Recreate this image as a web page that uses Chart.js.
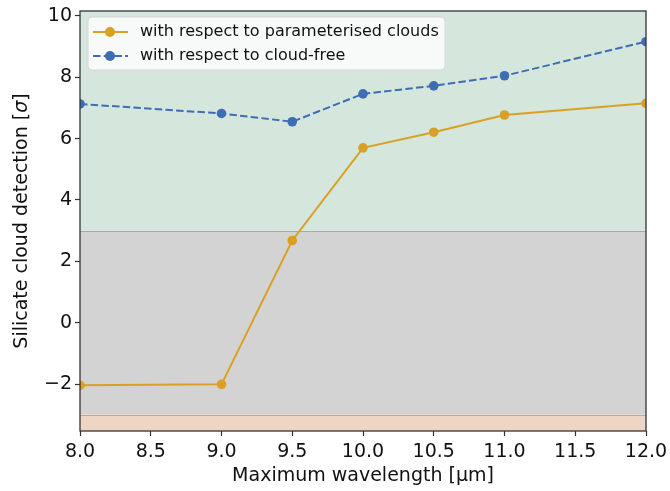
<!DOCTYPE html>
<html>
<head>
<meta charset="utf-8">
<script src="https://cdn.jsdelivr.net/npm/chart.js@4.4.1/dist/chart.umd.min.js"></script>
<style>
  html, body { margin: 0; padding: 0; background: #fff; }
  #wrap { width: 670px; height: 491px; }
</style>
</head>
<body>
<div id="wrap"><canvas id="chart" width="670" height="491"></canvas></div>
<script>
const wavelengths = [8.0, 9.0, 9.5, 10.0, 10.5, 11.0, 12.0];
const paramClouds = [-2.04, -2.01, 2.68, 5.70, 6.21, 6.77, 7.15];
const cloudFree = [7.13, 6.82, 6.55, 7.46, 7.72, 8.05, 9.16];
const seriesNames = ["with respect to parameterised clouds", "with respect to cloud-free"];
const xTicks = [8.0, 8.5, 9.0, 9.5, 10.0, 10.5, 11.0, 11.5, 12.0];
const yTicks = [-2, 0, 2, 4, 6, 8, 10];
const bandLimits = [-3, 3];

const FONT = "DejaVu Sans";
const ORANGE = "#daa024";
const BLUE = "#3e6db3";

function toPoints(ys) {
  return wavelengths.map((x, i) => ({ x: x, y: ys[i] }));
}

function fmtTick(v) {
  return v < 0 ? "\u2212" + Math.abs(v) : String(v);
}

const bandsPlugin = {
  id: "bands",
  beforeDatasetsDraw(chart) {
    const { ctx, chartArea: a, scales: { y } } = chart;
    const yLow = y.getPixelForValue(bandLimits[0]);
    const yHigh = y.getPixelForValue(bandLimits[1]);
    ctx.save();
    ctx.fillStyle = "#d5e6dc";
    ctx.fillRect(a.left, a.top, a.right - a.left, yHigh - a.top);
    ctx.fillStyle = "#d3d3d3";
    ctx.fillRect(a.left, yHigh, a.right - a.left, yLow - yHigh);
    ctx.fillStyle = "#efd6c4";
    ctx.fillRect(a.left, yLow, a.right - a.left, a.bottom - yLow);
    ctx.lineWidth = 1;
    ctx.strokeStyle = "#a2aba5";
    ctx.beginPath();
    ctx.moveTo(a.left, Math.round(yHigh) + 0.5);
    ctx.lineTo(a.right, Math.round(yHigh) + 0.5);
    ctx.stroke();
    ctx.strokeStyle = "#c3a995";
    ctx.beginPath();
    ctx.moveTo(a.left, Math.round(yLow) + 0.5);
    ctx.lineTo(a.right, Math.round(yLow) + 0.5);
    ctx.stroke();
    ctx.restore();
  },
  afterDraw(chart) {
    const { ctx, chartArea: a } = chart;
    ctx.save();
    // frame
    ctx.strokeStyle = "#333";
    ctx.lineWidth = 1.3;
    ctx.strokeRect(a.left, a.top, a.right - a.left, a.bottom - a.top);

    // legend
    const lx = a.left + 8, ly = a.top + 6, lw = 357, lh = 53;
    ctx.beginPath();
    ctx.roundRect(lx, ly, lw, lh, 4);
    ctx.fillStyle = "rgba(255,255,255,0.8)";
    ctx.fill();
    ctx.strokeStyle = "#d6d6d6";
    ctx.lineWidth = 1;
    ctx.stroke();
    const rows = [
      { name: seriesNames[0], color: ORANGE, dash: [] },
      { name: seriesNames[1], color: BLUE, dash: [7.5, 3.2] }
    ];
    rows.forEach((r, i) => {
      const cy = ly + 15 + i * 24;
      ctx.strokeStyle = r.color;
      ctx.lineWidth = 2;
      ctx.setLineDash(r.dash);
      ctx.beginPath();
      ctx.moveTo(lx + 5, cy);
      ctx.lineTo(lx + 40, cy);
      ctx.stroke();
      ctx.setLineDash([]);
      ctx.fillStyle = r.color;
      ctx.beginPath();
      ctx.arc(lx + 22, cy, 5, 0, Math.PI * 2);
      ctx.fill();
      ctx.fillStyle = "#111";
      ctx.font = "16px '" + FONT + "'";
      ctx.textBaseline = "middle";
      ctx.textAlign = "left";
      ctx.fillText(r.name, lx + 52, cy);
    });

    // y axis title with italic sigma
    ctx.translate(22, (a.top + a.bottom) / 2);
    ctx.rotate(-Math.PI / 2);
    const f1 = "19px '" + FONT + "'";
    const f2 = "italic 19px '" + FONT + "'";
    const p1 = "Silicate cloud detection [", p2 = "\u03c3", p3 = "]";
    ctx.font = f1;
    const w1 = ctx.measureText(p1).width, w3 = ctx.measureText(p3).width;
    ctx.font = f2;
    const w2 = ctx.measureText(p2).width;
    let x0 = -(w1 + w2 + w3) / 2;
    ctx.fillStyle = "#111";
    ctx.textBaseline = "middle";
    ctx.textAlign = "left";
    ctx.font = f1; ctx.fillText(p1, x0, 0);
    ctx.font = f2; ctx.fillText(p2, x0 + w1, 0);
    ctx.font = f1; ctx.fillText(p3, x0 + w1 + w2, 0);
    ctx.restore();
  }
};

new Chart(document.getElementById("chart"), {
  type: "line",
  data: {
    datasets: [
      {
        label: seriesNames[0],
        data: toPoints(paramClouds),
        borderColor: ORANGE,
        backgroundColor: ORANGE,
        borderWidth: 2,
        pointRadius: 4.8,
        pointHoverRadius: 4.8,
        pointBorderWidth: 0,
        tension: 0,
        clip: 0
      },
      {
        label: seriesNames[1],
        data: toPoints(cloudFree),
        borderColor: BLUE,
        backgroundColor: BLUE,
        borderWidth: 2,
        borderDash: [7.5, 3.2],
        pointRadius: 4.8,
        pointHoverRadius: 4.8,
        pointBorderWidth: 0,
        tension: 0,
        clip: 0
      }
    ]
  },
  options: {
    responsive: false,
    animation: false,
    devicePixelRatio: 1,
    layout: { padding: { left: 0, right: 24, top: 11, bottom: 0 } },
    plugins: { legend: { display: false }, tooltip: { enabled: false } },
    scales: {
      x: {
        type: "linear",
        min: 8,
        max: 12,
        afterBuildTicks: (s) => { s.ticks = xTicks.map(v => ({ value: v })); },
        afterFit: (s) => { s.height = 60; s.paddingLeft = 0; s.paddingRight = 0; },
        grid: { drawOnChartArea: false, drawTicks: true, tickLength: 5, color: "#333", tickWidth: 1.2 },
        border: { display: false },
        ticks: {
          color: "#111",
          font: { family: FONT, size: 19 },
          padding: 5,
          maxRotation: 0,
          callback: (v) => Number(v).toFixed(1)
        },
        title: {
          display: true,
          text: "Maximum wavelength [\u03bcm]",
          color: "#111",
          font: { family: FONT, size: 19 },
          padding: { top: 0, bottom: 4 }
        }
      },
      y: {
        type: "linear",
        min: -3.53,
        max: 10.16,
        afterBuildTicks: (s) => { s.ticks = yTicks.map(v => ({ value: v })); },
        afterFit: (s) => { s.width = 80; s.paddingTop = 0; s.paddingBottom = 0; },
        grid: { drawOnChartArea: false, drawTicks: true, tickLength: 5, color: "#333", tickWidth: 1.2 },
        border: { display: false },
        ticks: {
          color: "#111",
          font: { family: FONT, size: 19 },
          padding: 3,
          callback: (v) => fmtTick(v)
        }
      }
    }
  },
  plugins: [bandsPlugin]
});
</script>
</body>
</html>
